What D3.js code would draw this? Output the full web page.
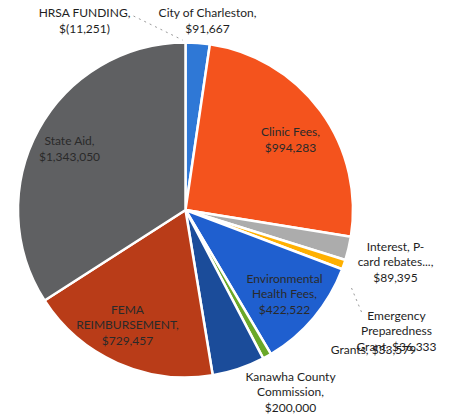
<!DOCTYPE html>
<html>
<head>
<meta charset="utf-8">
<script src="https://cdn.jsdelivr.net/npm/d3@7"></script>
<style>
  html, body { margin: 0; padding: 0; background: #fff; }
  svg { display: block; }
</style>
</head>
<body>
<script>
// Revenue sources, in the order they sweep clockwise from twelve o'clock
const categories = [
  "HRSA FUNDING", "City of Charleston", "Clinic Fees", "Interest, P-card rebates...",
  "Emergency Preparedness Grant", "Environmental Health Fees", "Grants",
  "Kanawha County Commission", "FEMA REIMBURSEMENT", "State Aid"
];
const amounts = [-11251, 91667, 994283, 89395, 36333, 422522, 33579, 200000, 729457, 1343050];

// How each label's name is broken into lines ("{v}" is the formatted amount)
const labelLines = [
  ["HRSA FUNDING,", "{v}"],
  ["City of Charleston,", "{v}"],
  ["Clinic Fees,", "{v}"],
  ["Interest, P-", "card rebates...,", "{v}"],
  ["Emergency", "Preparedness", "Grant, {v}"],
  ["Environmental", "Health Fees,", "{v}"],
  ["Grants, {v}"],
  ["Kanawha County", "Commission,", "{v}"],
  ["FEMA", "REIMBURSEMENT,", "{v}"],
  ["State Aid,", "{v}"]
];

const sliceColors = [
  "#8a8a8a", "#2f78d6", "#f4531d", "#acacac", "#ffb000",
  "#1f5fcf", "#6aa828", "#1b4c9a", "#b93c18", "#5f6062"
];

// Label block centres, relative to the pie centre
const labelOffsets = [
  [-101, -189], [22, -189], [105, -70], [210, 52], [211, 121],
  [99, 84], [188, 140], [105, 182], [-58, 115], [-116, -61]
];
const insideLabel = [false, false, true, false, false, true, false, false, true, true];
// Dashed leader lines: [label-end offset, slice-end offset]
const leaders = [
  { i: 0, from: [-52, -194], to: [-3, -170] },
  { i: 4, from: [166, 78], to: [176, 102] }
];

const W = 450, H = 418;
const cx = 185.5, cy = 210, R = 167.5;

const fmtNum = d3.format(",");
const fmtMoney = v => v < 0 ? "$(" + fmtNum(-v) + ")" : "$" + fmtNum(v);

const data = categories.map((c, i) => ({ name: c, value: amounts[i], i }));

const svg = d3.select("body").append("svg")
  .attr("width", W).attr("height", H);

const g = svg.append("g").attr("transform", `translate(${cx},${cy})`);

const pie = d3.pie().sort(null).value(d => Math.max(0, d.value));
const arc = d3.arc().innerRadius(0).outerRadius(R);

g.selectAll("path.slice")
  .data(pie(data))
  .join("path")
  .attr("class", "slice")
  .attr("d", arc)
  .attr("fill", d => sliceColors[d.data.i])
  .attr("stroke", "#fff")
  .attr("stroke-width", 2.5)
  .attr("stroke-linejoin", "round");

// leader lines
g.selectAll("line.leader")
  .data(leaders)
  .join("line")
  .attr("class", "leader")
  .attr("x1", d => d.from[0]).attr("y1", d => d.from[1])
  .attr("x2", d => d.to[0]).attr("y2", d => d.to[1])
  .attr("stroke", "#9a9a9a")
  .attr("stroke-width", 1)
  .attr("stroke-dasharray", "2,4");

const lineH = 15.5;
const labels = g.selectAll("text.lbl")
  .data(data)
  .join("text")
  .attr("class", "lbl")
  .attr("text-anchor", "middle")
  .attr("font-family", "Lato, 'Open Sans', sans-serif")
  .attr("font-size", 12)
  .attr("fill", d => insideLabel[d.i] ? "#2a2a2a" : "#1e1e1e");

labels.each(function(d) {
  const lines = labelLines[d.i].map(s => s.replace("{v}", fmtMoney(d.value)));
  const [ox, oy] = labelOffsets[d.i];
  const top = oy - (lines.length - 1) * lineH / 2;
  d3.select(this).selectAll("tspan")
    .data(lines)
    .join("tspan")
    .attr("x", ox)
    .attr("y", (s, k) => top + k * lineH)
    .attr("dy", "0.35em")
    .text(s => s);
});
</script>
</body>
</html>
